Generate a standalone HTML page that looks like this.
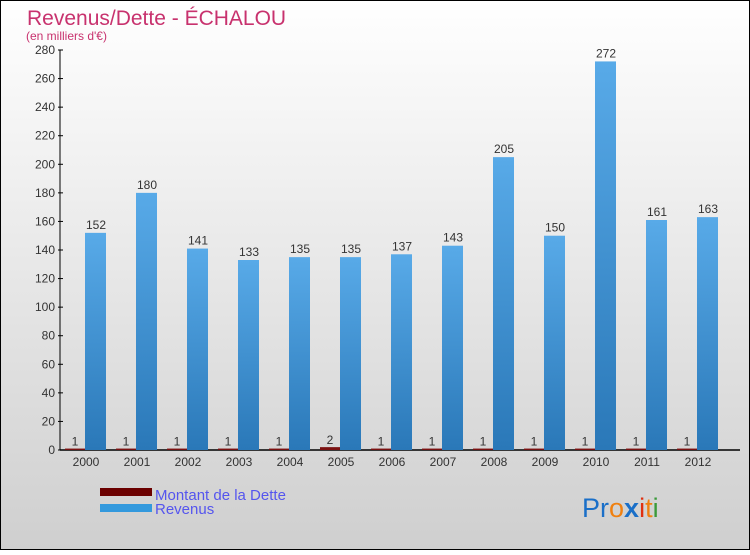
<!DOCTYPE html>
<html><head><meta charset="utf-8"><style>
body{margin:0;width:750px;height:550px;overflow:hidden;font-family:"Liberation Sans",sans-serif}
</style></head><body>
<svg width="750" height="550" xmlns="http://www.w3.org/2000/svg">
<defs>
<linearGradient id="bg" x1="0" y1="0" x2="0" y2="1"><stop offset="0" stop-color="#ffffff"/><stop offset="1" stop-color="#cfcfcf"/></linearGradient>
<linearGradient id="rev" x1="0" y1="0" x2="0" y2="1"><stop offset="0" stop-color="#58aae8"/><stop offset="1" stop-color="#2a78b8"/></linearGradient>
</defs>
<rect x="0.5" y="0.5" width="749" height="549" fill="url(#bg)" stroke="#000"/>
<text x="27" y="25" font-size="21" fill="#c8326e">Revenus/Dette - ÉCHALOU</text>
<text x="26" y="40" font-size="12" fill="#c8326e">(en milliers d'€)</text>
<g id="axes"></g>
<g id="bars"></g>
<rect x="100" y="488" width="52" height="8" fill="#6b0000"/>
<text x="155" y="500" font-size="15" fill="#5555ee">Montant de la Dette</text>
<rect x="100" y="504" width="52" height="8" fill="#3399dd"/>
<text x="155" y="514" font-size="15" fill="#5555ee">Revenus</text>
<text x="582" y="517" font-size="27"><tspan fill="#1a6fc8">Pr</tspan><tspan fill="#f08010">o</tspan><tspan fill="#1a6fc8" font-weight="bold">x</tspan><tspan fill="#e03010">i</tspan><tspan fill="#f08010">t</tspan><tspan fill="#3a9a3a">i</tspan></text>
</svg>
<script>
const categories=["2000","2001","2002","2003","2004","2005","2006","2007","2008","2009","2010","2011","2012"];
const debt=[1,1,1,1,1,2,1,1,1,1,1,1,1];
const revenue=[152,180,141,133,135,135,137,143,205,150,272,161,163];
const yTicks=[0,20,40,60,80,100,120,140,160,180,200,220,240,260,280];
const NS="http://www.w3.org/2000/svg";
const y=v=>450-v*400/280;
const xc=i=>86+i*51;
function mk(t,a,p,txt){const e=document.createElementNS(NS,t);for(const k in a)e.setAttribute(k,a[k]);if(txt!==undefined)e.textContent=txt;p.appendChild(e);return e;}
const ax=document.getElementById('axes'),bars=document.getElementById('bars');
let l=mk('line',{x1:60,y1:50,x2:60,y2:450,stroke:'#000'},ax);


l=mk('line',{x1:60,y1:450,x2:740,y2:450,stroke:'#000','stroke-width':1.5},ax);


yTicks.forEach(v=>{
 const t=mk('line',{x1:58,x2:63,y1:y(v),y2:y(v),stroke:'#000'},ax);
 
 
 const tx=mk('text',{x:55,y:y(v)+4,'font-size':12,fill:'#333','text-anchor':'end'},ax,v);
 
 
});
categories.forEach((c,i)=>{
 const cx=xc(i);
 const tl=mk('text',{x:cx,y:466,'font-size':12,fill:'#333','text-anchor':'middle'},ax,c);
 
 
 const d=mk('rect',{x:cx-21,y:y(debt[i]),width:20,height:450-y(debt[i]),fill:'#7a1010'},bars);
 
 
 const dl=mk('text',{x:cx-11,y:y(debt[i])-3,'font-size':12,fill:'#333','text-anchor':'middle'},bars,debt[i]);
 
 
 const r=mk('rect',{x:cx-1,y:y(revenue[i]),width:21,height:450-y(revenue[i]),fill:'url(#rev)'},bars);
 
 
 const rl=mk('text',{x:cx+10,y:y(revenue[i])-4,'font-size':12,fill:'#333','text-anchor':'middle'},bars,revenue[i]);
 
 
});
</script>
</body></html>
